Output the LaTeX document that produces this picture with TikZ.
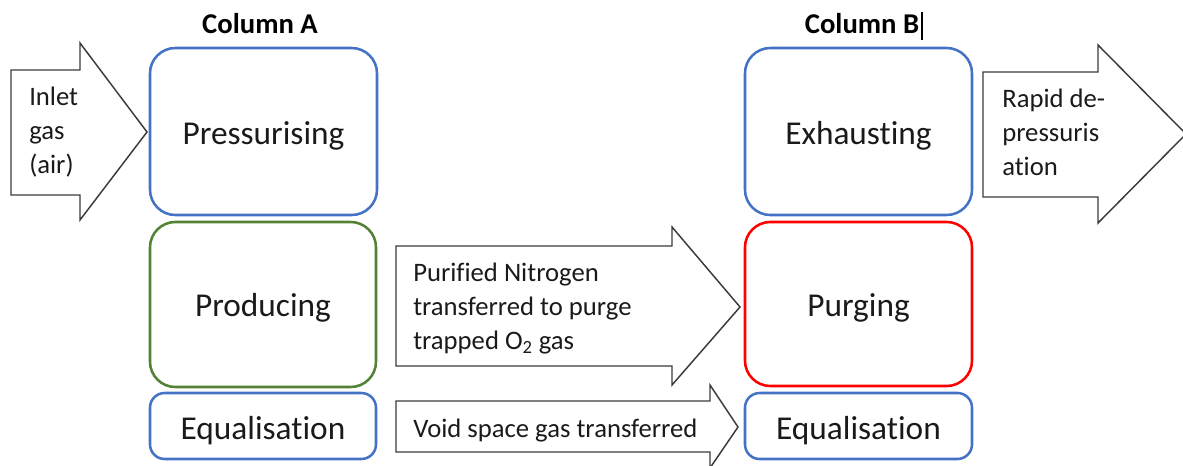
\documentclass[tikz,border=0pt]{standalone}
\usepackage{fontspec}
\setmainfont{Carlito}[Ligatures={NoCommon}]
\definecolor{boxblue}{HTML}{4472C4}
\definecolor{boxgreen}{HTML}{548235}
\definecolor{boxred}{HTML}{FF0000}
\definecolor{arrowgray}{HTML}{3A3A3A}
\definecolor{txt}{HTML}{1A1A1A}
\begin{document}
\begin{tikzpicture}[x=0.75pt,y=-0.75pt,
  bigbox/.style={line width=1.9pt, rounded corners=19pt},
  smallbox/.style={line width=1.9pt, rounded corners=11pt},
  blockarrow/.style={draw=arrowgray, line width=1.1pt, line join=miter},
  bigtext/.style={font=\fontsize{25}{29}\selectfont, text=txt, inner sep=0pt, anchor=base},
  smalltext/.style={font=\fontsize{20}{25.5}\selectfont, text=txt, inner sep=0pt, anchor=base west},
  headtext/.style={font=\fontsize{21.5}{24}\selectfont\bfseries, text=black, inner sep=0pt, anchor=base}
]
\useasboundingbox (0,0) rectangle (1183,465);

% column headings
\node[headtext] (colA) at (260,33) {Column A};
\node[headtext] (colB) at (862,33) {Column B};
\draw[line width=0.8pt] (922,12) -- (922,40);

% Column A boxes
\draw[bigbox, draw=boxblue] (150,48) rectangle (377,215);
\node[bigtext] (press) at (263.5,144) {Pressurising};
\draw[bigbox, draw=boxgreen] (150,222) rectangle (376,387);
\node[bigtext] (prod) at (263,316) {Producing};
\draw[smallbox, draw=boxblue] (150,393) rectangle (376,459);
\node[bigtext] (eqA) at (263,439) {Equalisation};

% Column B boxes
\draw[bigbox, draw=boxblue] (745,48) rectangle (972,215);
\node[bigtext] (exh) at (858.5,144) {Exhausting};
\draw[bigbox, draw=boxred] (745,222) rectangle (972,386);
\node[bigtext] (purg) at (858.5,316) {Purging};
\draw[smallbox, draw=boxblue] (745,393) rectangle (972,459);
\node[bigtext] (eqB) at (858.5,439) {Equalisation};

% Inlet arrow
\draw[blockarrow] (11,70) -- (80,70) -- (80,43) -- (147,132) -- (80,220) -- (80,195) -- (11,195) -- cycle;
\node[smalltext] (inlet) at (29,105) {\begin{tabular}[t]{@{}l@{}}Inlet\\gas\\(air)\end{tabular}};

% Rapid depressurisation arrow
\draw[blockarrow] (983,72) -- (1098,72) -- (1098,45) -- (1186,134) -- (1098,223) -- (1098,197) -- (983,197) -- cycle;
\node[smalltext] (rapid) at (1002,107) {\begin{tabular}[t]{@{}l@{}}Rapid de-\\pressuris\\ation\end{tabular}};

% Purified nitrogen arrow
\draw[blockarrow] (396,246) -- (672,246) -- (672,227) -- (740,307) -- (672,385) -- (672,366) -- (396,366) -- cycle;
\node[smalltext] (purified) at (413,281) {\begin{tabular}[t]{@{}l@{}}Purified Nitrogen\\transferred to purge\\trapped O\textsubscript{2} gas\end{tabular}};

% Void space arrow
\draw[blockarrow] (396,401) -- (710,401) -- (710,385) -- (738,427) -- (710,468) -- (710,452) -- (396,452) -- cycle;
\node[smalltext] (void) at (413,437) {Void space gas transferred};
\end{tikzpicture}
\end{document}
